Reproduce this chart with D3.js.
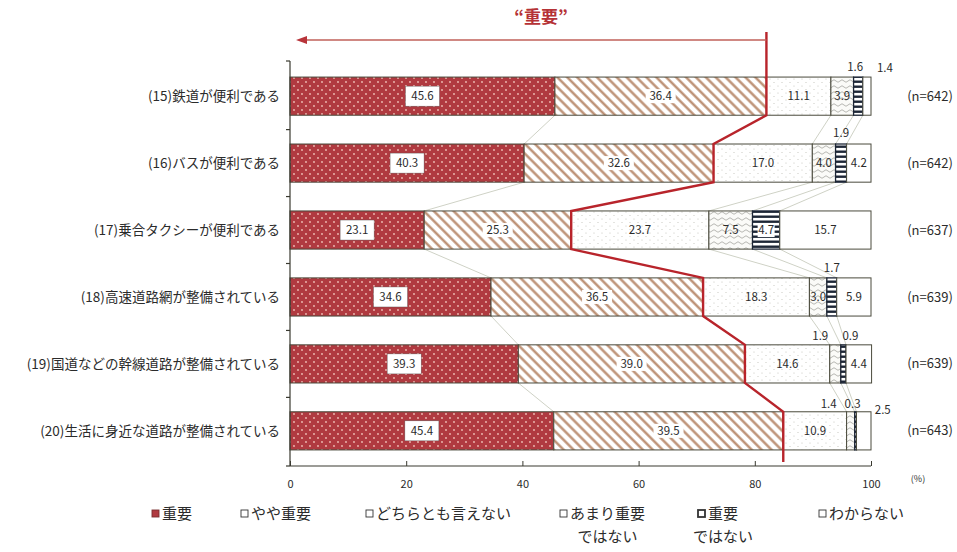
<!DOCTYPE html>
<html>
<head>
<meta charset="utf-8">
<script src="https://cdn.jsdelivr.net/npm/d3@7"></script>
<style>
  html, body { margin: 0; padding: 0; background: #fff; }
  svg { display: block; font-family: "Noto Sans CJK JP", "Noto Sans", sans-serif; }
</style>
</head>
<body>
<svg id="chart" width="957" height="552"></svg>
<script>
// Survey items (rows, top to bottom)
const items = [
  "(15)鉄道が便利である",
  "(16)バスが便利である",
  "(17)乗合タクシーが便利である",
  "(18)高速道路網が整備されている",
  "(19)国道などの幹線道路が整備されている",
  "(20)生活に身近な道路が整備されている"
];
const sampleSizes = [642, 642, 637, 639, 639, 643];

// Response categories (stack order, left to right)
const categories = ["重要", "やや重要", "どちらとも言えない", "あまり重要ではない", "重要ではない", "わからない"];

// Percentages per category, one value per item
const important        = [45.6, 40.3, 23.1, 34.6, 39.3, 45.4];
const somewhatImportant = [36.4, 32.6, 25.3, 36.5, 39.0, 39.5];
const neutral          = [11.1, 17.0, 23.7, 18.3, 14.6, 10.9];
const notVeryImportant = [3.9, 4.0, 7.5, 3.0, 1.9, 1.4];
const notImportant     = [1.6, 1.9, 4.7, 1.7, 0.9, 0.3];
const dontKnow         = [1.4, 4.2, 15.7, 5.9, 4.4, 2.5];

const xTicks = [0, 20, 40, 60, 80, 100];

const seriesValues = [important, somewhatImportant, neutral, notVeryImportant, notImportant, dontKnow];

const svg = d3.select("#chart");
const defs = svg.append("defs");

// ---- fill patterns ----
const pImp = defs.append("pattern").attr("id", "pat0").attr("patternUnits", "userSpaceOnUse")
  .attr("width", 8).attr("height", 8);
pImp.append("rect").attr("width", 8).attr("height", 8).attr("fill", "#b03a40");
pImp.append("circle").attr("cx", 2).attr("cy", 2).attr("r", 0.9).attr("fill", "#f0c0b8");
pImp.append("circle").attr("cx", 6).attr("cy", 6).attr("r", 0.9).attr("fill", "#f0c0b8");

const pSome = defs.append("pattern").attr("id", "pat1").attr("patternUnits", "userSpaceOnUse")
  .attr("width", 7).attr("height", 7).attr("patternTransform", "rotate(-45)");
pSome.append("rect").attr("width", 7).attr("height", 7).attr("fill", "#fff");
pSome.append("line").attr("x1", 3.5).attr("x2", 3.5).attr("y1", 0).attr("y2", 7)
  .attr("stroke", "#b98a6c").attr("stroke-width", 2.3);

const pNeu = defs.append("pattern").attr("id", "pat2").attr("patternUnits", "userSpaceOnUse")
  .attr("width", 8).attr("height", 7);
pNeu.append("rect").attr("width", 8).attr("height", 7).attr("fill", "#fff");
pNeu.append("circle").attr("cx", 2).attr("cy", 2).attr("r", 0.6).attr("fill", "#c4c4bc");
pNeu.append("circle").attr("cx", 6).attr("cy", 5.5).attr("r", 0.6).attr("fill", "#c4c4bc");

const pNot = defs.append("pattern").attr("id", "pat3").attr("patternUnits", "userSpaceOnUse")
  .attr("width", 8).attr("height", 6);
pNot.append("rect").attr("width", 8).attr("height", 6).attr("fill", "#fbfbf8");
pNot.append("path").attr("d", "M0,3 Q2,0.5 4,3 T8,3").attr("fill", "none")
  .attr("stroke", "#a4a4a0").attr("stroke-width", 0.8);

const pNone = defs.append("pattern").attr("id", "pat4").attr("patternUnits", "userSpaceOnUse")
  .attr("width", 6).attr("height", 5);
pNone.append("rect").attr("width", 6).attr("height", 5).attr("fill", "#fff");
pNone.append("rect").attr("y", 0.5).attr("width", 6).attr("height", 2.4).attr("fill", "#1d2636");

const fills = ["url(#pat0)", "url(#pat1)", "url(#pat2)", "url(#pat3)", "url(#pat4)", "#fff"];

// ---- scales ----
const x = d3.scaleLinear().domain([0, 100]).range([290, 871]);
const y = d3.scaleBand().domain(items).range([61, 466]).paddingInner(0.43).paddingOuter(0.24);
const bh = y.bandwidth();

// stacked data
const table = items.map((name, i) => {
  const row = { name };
  categories.forEach((c, k) => row[c] = seriesValues[k][i]);
  return row;
});
const stacked = d3.stack().keys(categories)(table);

const ink = "#2b2b2b";

// ---- faint connector lines between rows ----
const conn = svg.append("g").attr("stroke", "#cfd2c6").attr("stroke-width", 1).attr("fill", "none");
stacked.forEach((layer, k) => {
  if (k === 1 || k === categories.length - 1) return; // cumulative "重要" total is drawn in red
  for (let i = 0; i < items.length - 1; i++) {
    conn.append("line")
      .attr("x1", x(layer[i][1])).attr("y1", y(items[i]) + bh)
      .attr("x2", x(layer[i + 1][1])).attr("y2", y(items[i + 1]));
  }
});

// ---- bars ----
const barG = svg.append("g");
stacked.forEach((layer, k) => {
  barG.append("g").selectAll("rect").data(layer).join("rect")
    .attr("x", d => x(d[0]))
    .attr("y", (d, i) => y(items[i]))
    .attr("width", d => x(d[1]) - x(d[0]))
    .attr("height", bh)
    .attr("fill", fills[k])
    .attr("stroke", k === 4 ? "#1d2636" : "#4a4a3c")
    .attr("stroke-width", k === 4 ? 1.3 : 1);
});

// ---- axes ----
const axisG = svg.append("g").attr("stroke", "#3a3a30").attr("stroke-width", 1.2);
axisG.append("line").attr("x1", 290).attr("x2", 290).attr("y1", 61).attr("y2", 466);
axisG.append("line").attr("x1", 290).attr("x2", x(100)).attr("y1", 466).attr("y2", 466);
// left ticks at band boundaries
const bounds = [61].concat(items.slice(1).map(it => y(it) - (y.step() - bh) / 2), [466]);
bounds.forEach(b => axisG.append("line").attr("x1", 286).attr("x2", 290).attr("y1", b).attr("y2", b));

const xAxis = d3.axisBottom(x).tickValues(xTicks).tickSize(-5).tickPadding(14).tickFormat(d3.format("d"));
const xg = svg.append("g").attr("transform", "translate(0,466)").call(xAxis);
xg.select(".domain").remove();
xg.selectAll(".tick line").attr("stroke", "#3a3a30");
xg.selectAll(".tick text").attr("font-size", 11).attr("fill", ink)
  .attr("font-family", "'Noto Sans CJK JP', sans-serif");
svg.append("text").attr("x", 918).attr("y", 482).attr("text-anchor", "middle")
  .attr("font-size", 9).attr("fill", ink).text("(%)");

// ---- red cumulative "重要" line ----
const cum = stacked[1].map(d => d[1]);
const pts = [[x(cum[0]), 32]];
cum.forEach((c, i) => {
  pts.push([x(c), y(items[i])]);
  pts.push([x(c), y(items[i]) + bh]);
});
pts[pts.length - 1][1] = 462;
svg.append("path").attr("d", d3.line()(pts)).attr("fill", "none")
  .attr("stroke", "#b8242b").attr("stroke-width", 2.4).attr("stroke-linejoin", "miter");

// arrow pointing left
svg.append("line").attr("x1", x(cum[0])).attr("x2", 304).attr("y1", 40).attr("y2", 40)
  .attr("stroke", "#c0605a").attr("stroke-width", 1.3);
svg.append("path").attr("d", "M296,40 L307,36 L307,44 Z").attr("fill", "#b8343a");
svg.append("text").attr("x", 541).attr("y", 23).attr("text-anchor", "middle")
  .attr("font-size", 17).attr("font-weight", "bold").attr("fill", "#b53236").text("“重要”");

// ---- row labels & n ----
svg.append("g").selectAll("text").data(items).join("text")
  .attr("x", 280).attr("y", d => y(d) + bh / 2).attr("dy", "0.35em")
  .attr("text-anchor", "end").attr("font-size", 13.5).attr("fill", ink).text(d => d);
svg.append("g").selectAll("text").data(sampleSizes).join("text")
  .attr("x", 930).attr("y", (d, i) => y(items[i]) + bh / 2).attr("dy", "0.35em")
  .attr("text-anchor", "middle").attr("font-size", 13).attr("fill", ink).text(d => `(n=${d})`);

// ---- value labels ----
// labels for thin segments sit above the bar; offsets keyed by "row-category"
const outside = {
  "0-4": [-3, -10], "0-5": [18, -9],
  "1-4": [0, -11],
  "3-4": [0, -10],
  "4-3": [-15, -9], "4-4": [7, -9],
  "5-3": [-22, -8], "5-4": [-3, -8], "5-5": [19, -2]
};
const boxed = new Set(["2-4"]);
const lab = svg.append("g").attr("font-size", 11.5).attr("fill", ink).attr("text-anchor", "middle");
stacked.forEach((layer, k) => {
  layer.forEach((d, i) => {
    const v = seriesValues[k][i];
    const key = `${i}-${k}`;
    let cx = (x(d[0]) + x(d[1])) / 2;
    let cy = y(items[i]) + bh / 2;
    if (outside[key]) {
      cx += outside[key][0];
      cy = y(items[i]) + outside[key][1];
    }
    const txt = v.toFixed(1);
    if (k === 0) {
      lab.append("rect").attr("x", cx - 17).attr("y", cy - 10).attr("width", 34).attr("height", 20)
        .attr("fill", "#fff").attr("stroke", "#555").attr("stroke-width", 0.4);
    } else if (k === 1 || boxed.has(key)) {
      const w = k === 1 ? 30 : 17;
      lab.append("rect").attr("x", cx - w / 2).attr("y", cy - 7).attr("width", w).attr("height", 14)
        .attr("fill", "#fff");
    }
    lab.append("text").attr("x", cx).attr("y", cy).attr("dy", "0.35em").text(txt);
  });
});

// ---- legend ----
const legend = [
  { label: ["重要"], x: 152, k: 0 },
  { label: ["やや重要"], x: 241, k: 1 },
  { label: ["どちらとも言えない"], x: 366, k: 2 },
  { label: ["あまり重要", "ではない"], x: 560, k: 3 },
  { label: ["重要", "ではない"], x: 698, k: 4 },
  { label: ["わからない"], x: 819, k: 5 }
];
const lg = svg.append("g");
legend.forEach(it => {
  lg.append("rect").attr("x", it.x).attr("y", 510).attr("width", 7).attr("height", 7)
    .attr("fill", it.k === 0 ? "#b03a40" : "#fff")
    .attr("stroke", it.k === 0 ? "#7a3030" : "#333")
    .attr("stroke-width", it.k === 4 ? 1.8 : 0.9);
  lg.append("text").attr("x", it.x + 10).attr("y", 514).attr("dy", "0.35em")
    .attr("font-size", 15).attr("fill", ink).text(it.label[0]);
  if (it.label[1]) {
    lg.append("text").attr("x", it.x + 10 + (it.label[0].length * 15) / 2).attr("y", 537).attr("dy", "0.35em")
      .attr("text-anchor", "middle").attr("font-size", 15).attr("fill", ink).text(it.label[1]);
  }
});
</script>
</body>
</html>
